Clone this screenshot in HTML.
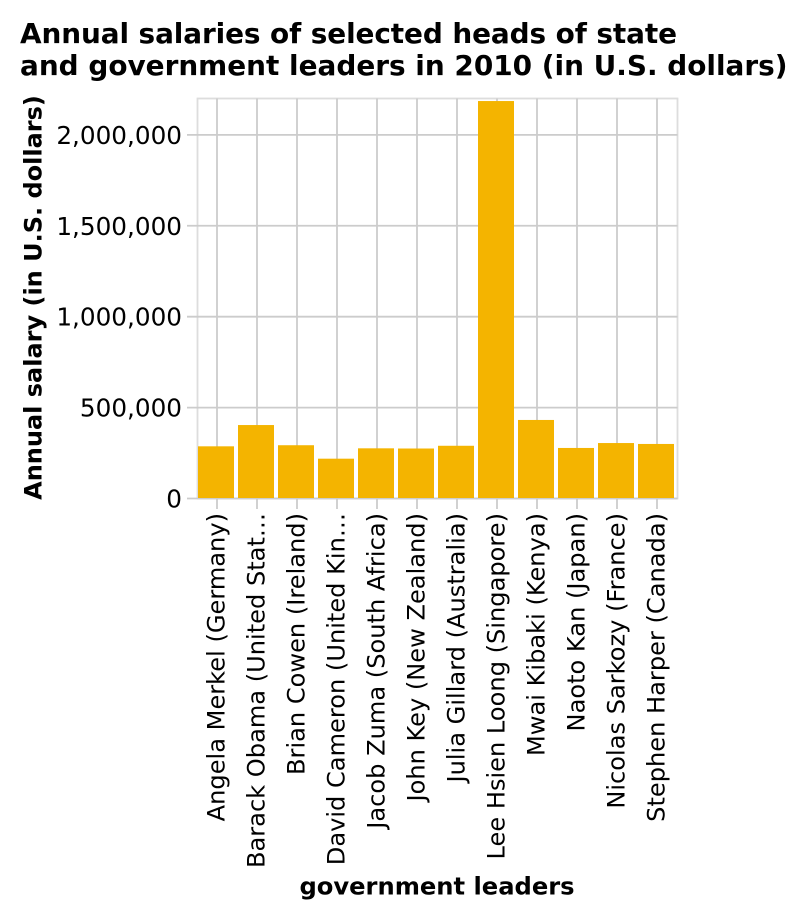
<!DOCTYPE html>
<html>
<head>
<meta charset="utf-8">
<style>
html,body{margin:0;padding:0;background:#fff}
svg{display:block}
text{font-family:"DejaVu Sans",sans-serif;fill:#000}
</style>
</head>
<body>
<svg id="chart" width="808" height="918" viewBox="0 0 808 918" xmlns="http://www.w3.org/2000/svg">
<text x="20" y="43" font-size="27.9" font-weight="bold" textLength="657" lengthAdjust="spacing">Annual salaries of selected heads of state</text>
<text x="20" y="75" font-size="27.9" font-weight="bold">and government leaders in 2010 (in U.S. dollars)</text>
<text transform="translate(41.5,297.5) rotate(-90)" text-anchor="middle" font-size="24" font-weight="bold">Annual salary (in U.S. dollars)</text>
<text x="437" y="894.5" text-anchor="middle" font-size="24.2" font-weight="bold">government leaders</text>
</svg>
<script>
const categories = ["Angela Merkel (Germany)","Barack Obama (United Stat…","Brian Cowen (Ireland)","David Cameron (United Kin…","Jacob Zuma (South Africa)","John Key (New Zealand)","Julia Gillard (Australia)","Lee Hsien Loong (Singapore)","Mwai Kibaki (Kenya)","Naoto Kan (Japan)","Nicolas Sarkozy (France)","Stephen Harper (Canada)"];
const salaries = [287000,404000,293000,219000,276000,275000,290000,2186000,432000,278000,305000,300000];
const yTicks = [0,500000,1000000,1500000,2000000];
const yTickLabels = ["0","500,000","1,000,000","1,500,000","2,000,000"];
const yMax = 2200000;

const svg = document.getElementById('chart');
const NS = 'http://www.w3.org/2000/svg';
const left = 197.5, top0 = 98.5, plotW = 480, plotH = 400;
const step = plotW / categories.length;
const barW = step * 0.9;
const yScale = v => top0 + plotH - (v / yMax) * plotH;
const xCenter = i => left + step * i + step / 2;

function make(tag, attrs) {
  const el = document.createElementNS(NS, tag);
  for (const k in attrs) el.setAttribute(k, attrs[k]);
  svg.appendChild(el);
  return el;
}

const frame = make('rect', {x:left, y:top0, width:plotW, height:plotH, fill:'none', stroke:'#ddd', 'stroke-width':1.8});



categories.forEach((c, i) => {
  const g = make('line', {x1:xCenter(i) - 0.5, x2:xCenter(i) - 0.5, y1:top0, y2:top0 + plotH, stroke:'#ccc', 'stroke-width':1.8});
  
  
});

yTicks.forEach((t, i) => {
  const g = make('line', {x1:left - 10.5, x2:left + plotW, y1:yScale(t), y2:yScale(t), stroke:'#ccc', 'stroke-width':1.8});
  
  
  const l = make('text', {x:182, y:yScale(t) + 9, 'text-anchor':'end', 'font-size':24.7});
  l.textContent = yTickLabels[i];
  
  
});

salaries.forEach((v, i) => {
  const b = make('rect', {x:xCenter(i) - barW / 2 - 1.5, y:yScale(v), width:barW, height:yScale(0) - yScale(v) - 0.5, fill:'#f4b400'});
  
  
});

categories.forEach((c, i) => {
  const x = xCenter(i) - 0.5;
  const t = make('line', {x1:x, x2:x, y1:top0 + plotH, y2:top0 + plotH + 10.5, stroke:'#ccc', 'stroke-width':1.8});
  
  
  const l = make('text', {transform:'translate(' + (x + 7.5) + ',513) rotate(-90)', 'text-anchor':'end', 'font-size':24.1});
  l.textContent = c;
  
  
});
</script>
</body>
</html>
